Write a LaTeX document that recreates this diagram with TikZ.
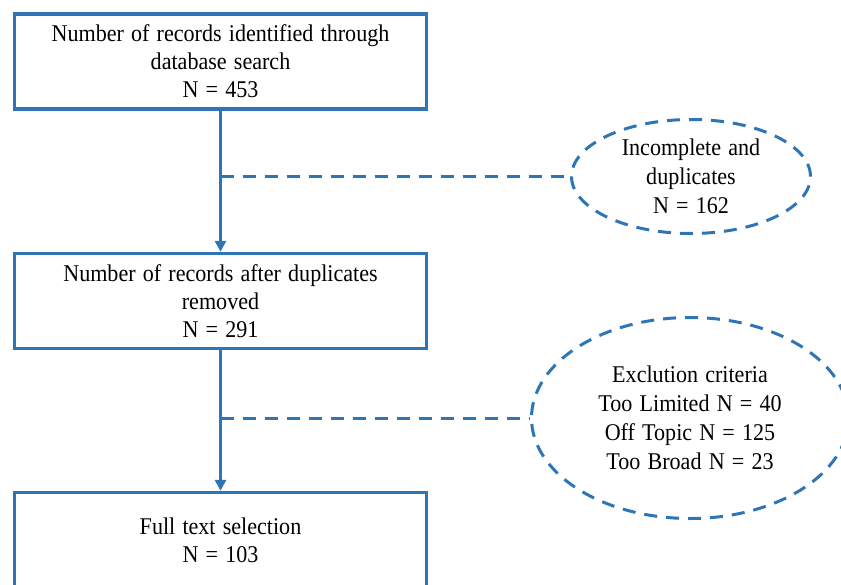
\documentclass[tikz,border=0pt]{standalone}
\usepackage{fontspec}
\setmainfont[FakeStretch=0.92,WordSpace=1.3]{Liberation Serif}
\usetikzlibrary{shapes.geometric,arrows.meta}
\definecolor{flowblue}{RGB}{46,117,182}
\tikzset{
  stagebox/.style={draw=flowblue, line width=3.4pt, rectangle, minimum width=412pt,
    minimum height=95pt, inner sep=0pt, align=center, font=\fontsize{24}{28}\selectfont},
  dropnote/.style={draw=flowblue, line width=3pt, ellipse, dash pattern=on 13pt off 9pt,
    inner sep=0pt, align=center, font=\fontsize{24}{29}\selectfont},
  flowarrow/.style={draw=flowblue, line width=3.2pt, -{Triangle[length=11pt,width=11pt]}},
  droplink/.style={draw=flowblue, line width=3pt, dash pattern=on 13pt off 9pt}
}
\begin{document}
\begin{tikzpicture}[x=1pt,y=-1pt]
  \useasboundingbox (0,0) rectangle (841,584);
  \clip (0,0) rectangle (841,584);

  % main stages
  \node[stagebox] (found) at (220.5,61.5)
    {Number of records identified through\\database search\\N = 453};
  \node[stagebox] (dedup) at (220.5,301)
    {Number of records after duplicates\\removed\\N = 291};
  \node[stagebox] (full) at (220.5,540)
    {Full text selection\\N = 103};

  % records removed at each step
  \node[dropnote, minimum width=239pt, minimum height=114pt] (dups) at (691,176.5)
    {Incomplete and\\duplicates\\N = 162};
  \node[dropnote, minimum width=317pt, minimum height=201pt] (excl) at (690,418)
    {Exclution criteria\\Too Limited N = 40\\Off Topic N = 125\\Too Broad N = 23};

  % flow
  \draw[flowarrow] (found.south) -- (dedup.north);
  \draw[flowarrow] (dedup.south) -- (full.north);
  \draw[droplink] (found.south |- dups.west) -- (dups.west);
  \draw[droplink] (dedup.south |- excl.west) -- (excl.west);
\end{tikzpicture}
\end{document}
